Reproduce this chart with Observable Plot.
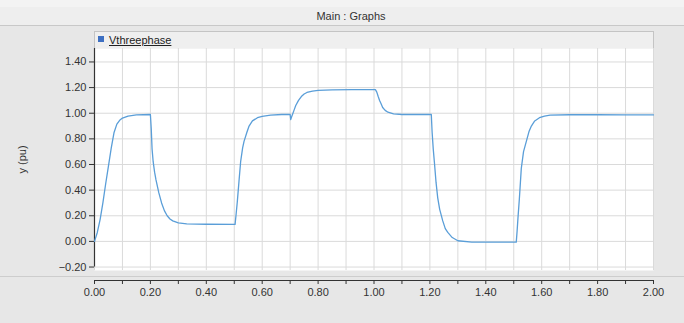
<!DOCTYPE html>
<html>
<head>
<meta charset="utf-8">
<script src="https://cdn.jsdelivr.net/npm/d3@7"></script>
<script src="https://cdn.jsdelivr.net/npm/@observablehq/plot@0.6"></script>
<style>
  html, body { margin: 0; padding: 0; }
  body { width: 684px; height: 323px; position: relative; overflow: hidden;
         background: #e7e7e7; font-family: "Liberation Sans", Arial, sans-serif; }
  #top { position: absolute; left: 0; top: 0; width: 684px; height: 7px; background: #f3f3f3; }
  #header { position: absolute; left: 0; top: 7px; width: 684px; height: 18px; background: #eeeeee;
            border-bottom: 1px solid #c8c8c8; text-align: center; font-size: 11px; line-height: 18px; color: #333; }
  #header span { position: relative; left: 9px; }
  #legend { position: absolute; left: 94px; top: 31px; width: 558px; height: 16px; background: #efefef;
            border: 1px solid #c4c4c4; border-bottom: none; font-size: 11px; line-height: 16px; color: #222; }
  #legend i { position: absolute; left: 3px; top: 4px; width: 6px; height: 6px; background: #3d6fc2; }
  #legend u { position: absolute; left: 14px; top: 0; }
  #sep { position: absolute; left: 0; top: 276px; width: 684px; height: 1px; background: #cdcdcd; }
  #chart { position: absolute; left: 0; top: 25px; }
</style>
</head>
<body>
<div id="top"></div>
<div id="header"><span id="title"></span></div>
<div id="sep"></div>
<div id="chart"></div>
<div id="legend"><i></i><u id="series"></u></div>
<script>
const title = "Main : Graphs";
const seriesName = "Vthreephase";
const yLabel = "y (pu)";

const xTicks = [0, 0.1, 0.2, 0.3, 0.4, 0.5, 0.6, 0.7, 0.8, 0.9, 1.0, 1.1, 1.2, 1.3, 1.4, 1.5, 1.6, 1.7, 1.8, 1.9, 2.0];
const xLabelTicks = [0, 0.2, 0.4, 0.6, 0.8, 1.0, 1.2, 1.4, 1.6, 1.8, 2.0];
const yTicks = [-0.2, 0, 0.2, 0.4, 0.6, 0.8, 1.0, 1.2, 1.4];

const time = [
  0, 0.01, 0.02, 0.03, 0.04, 0.05, 0.06, 0.07, 0.08, 0.09, 0.10, 0.12, 0.15, 0.20,
  0.203, 0.206, 0.21, 0.215, 0.22, 0.23, 0.24, 0.25, 0.26, 0.27, 0.28, 0.30, 0.33, 0.40, 0.503,
  0.507, 0.511, 0.517, 0.523, 0.53, 0.535, 0.545, 0.553, 0.565, 0.583, 0.60, 0.63, 0.67, 0.70,
  0.702, 0.705, 0.71, 0.715, 0.72, 0.73, 0.74, 0.75, 0.76, 0.78, 0.80, 0.85, 0.92, 1.005,
  1.01, 1.015, 1.02, 1.025, 1.031, 1.04, 1.05, 1.07, 1.10, 1.15, 1.205,
  1.208, 1.212, 1.216, 1.222, 1.228, 1.235, 1.246, 1.255, 1.264, 1.28, 1.30, 1.35, 1.42, 1.509,
  1.512, 1.515, 1.52, 1.527, 1.535, 1.545, 1.555, 1.563, 1.575, 1.592, 1.61, 1.63, 1.70, 1.80, 1.90, 2.0
];
const vthreephase = [
  0, 0.07, 0.17, 0.30, 0.45, 0.59, 0.73, 0.85, 0.915, 0.945, 0.962, 0.978, 0.987, 0.99,
  0.88, 0.72, 0.62, 0.54, 0.48, 0.38, 0.30, 0.24, 0.20, 0.175, 0.16, 0.145, 0.137, 0.134, 0.133,
  0.22, 0.31, 0.47, 0.625, 0.73, 0.78, 0.85, 0.90, 0.94, 0.965, 0.976, 0.985, 0.99, 0.99,
  0.95, 0.97, 1.00, 1.03, 1.06, 1.10, 1.13, 1.15, 1.162, 1.173, 1.178, 1.182, 1.184, 1.184,
  1.165, 1.13, 1.10, 1.075, 1.045, 1.022, 1.008, 0.995, 0.99, 0.99, 0.99,
  0.85, 0.72, 0.62, 0.46, 0.34, 0.25, 0.16, 0.10, 0.07, 0.03, 0.005, -0.005, -0.006, -0.006,
  0.08, 0.18, 0.33, 0.57, 0.70, 0.78, 0.86, 0.90, 0.94, 0.965, 0.978, 0.985, 0.988, 0.988, 0.987, 0.987
];

const data = time.map((t, i) => ({t, v: vthreephase[i]}));
const yDomain = [-0.227, 1.505];

document.getElementById("title").textContent = title;
document.getElementById("series").textContent = seriesName;

const chart = Plot.plot({
  width: 684,
  height: 298,
  marginTop: 23,
  marginBottom: 53,
  marginLeft: 94,
  marginRight: 31,
  style: {background: "transparent", fontFamily: "'Liberation Sans', Arial, sans-serif", fontSize: "11px", color: "#333"},
  x: {domain: [0, 2]},
  y: {domain: yDomain},
  marks: [
    Plot.frame({fill: "white", stroke: null}),
    Plot.gridX(xTicks, {stroke: "#dadada", strokeOpacity: 1}),
    Plot.gridY(yTicks, {stroke: "#dadada", strokeOpacity: 1}),
    Plot.ruleX([0], {y1: -0.2, y2: yDomain[1], stroke: "#333", strokeWidth: 1.2}),
    Plot.axisY(yTicks, {tickFormat: d3.format(".2f"), tickSize: 5, tickPadding: 3, stroke: "#333",
      label: yLabel, labelAnchor: "center", labelArrow: "none", labelOffset: 76}),
    Plot.ruleY([yDomain[0]], {x1: 0, x2: 2, dy: 10, stroke: "#333", strokeWidth: 1.2}),
    Plot.axisX(xTicks, {dy: 10, tickSize: 4, tickPadding: 4, stroke: "#333", label: null,
      tickFormat: d => xLabelTicks.some(v => Math.abs(v - d) < 1e-9) ? d3.format(".2f")(d) : ""}),
    Plot.line(data, {x: "t", y: "v", stroke: "#5a9ed8", strokeWidth: 1.3})
  ]
});
document.getElementById("chart").appendChild(chart);
</script>
</body>
</html>
